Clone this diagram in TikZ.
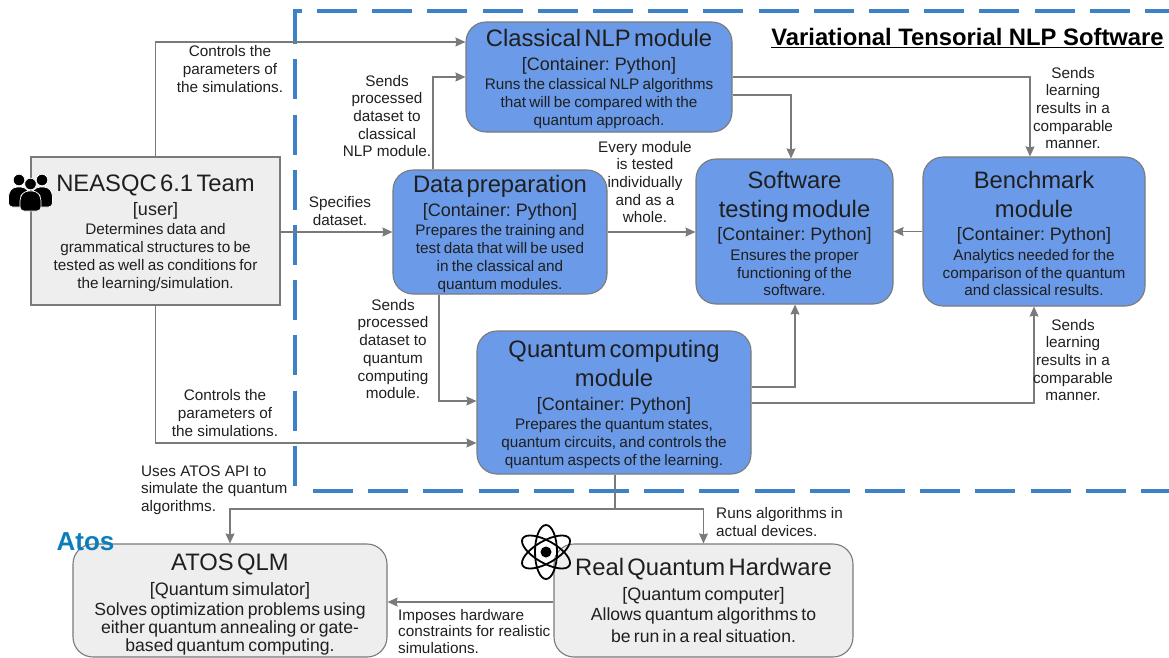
\documentclass[tikz,border=0pt]{standalone}
\usepackage{fontspec}
\setmainfont{Liberation Sans}
\usetikzlibrary{calc, positioning, arrows.meta}
\definecolor{modblue}{HTML}{6A9AE8}
\definecolor{dashblue}{HTML}{3D82C6}
\definecolor{boxgrey}{HTML}{EEEEEE}
\definecolor{edgegrey}{HTML}{7A7A7A}
\definecolor{atosblue}{HTML}{0A7DBB}
% Font sizes inside the boxes
\newcommand{\ttl}{\fontsize{23.8}{29}\selectfont}
\newcommand{\sbt}{\fontsize{18}{23.5}\selectfont}
\newcommand{\sbtb}{\fontsize{18}{24.5}\selectfont}
\newcommand{\bdy}{\fontsize{15.3}{17.7}\selectfont}
\newcommand{\bdyb}{\fontsize{17.6}{18}\selectfont}
% Title, kind and description of a box
\newcommand{\boxtxt}[3]{{\ttl\rule{0pt}{21pt}#1\par}{\sbt #2\par}\vspace{2pt}{\bdy #3\par}}
\newcommand{\boxtxtb}[4][0pt]{{\ttl\rule{0pt}{#1}#2\par}{\sbtb #3\par}\vspace{2.5pt}{\bdyb #4\par}}
\tikzset{
  % Set arrowhead
  >={Stealth[length=10pt, width=9pt, inset=1pt]},
  % General box
  box/.style={draw=edgegrey, line width=1.1pt, align=center, inner sep=0pt,
    text=black!88},
  % Blue module
  module/.style={box, fill=modblue, rounded corners=20pt},
  % Grey system
  extsys/.style={box, fill=boxgrey, rounded corners=20pt},
  % User box
  userbox/.style={box, fill=boxgrey},
  % Connectors
  link/.style={->, draw=edgegrey, line width=1.1pt},
  % Connector labels
  lbl/.style={align=center, inner sep=0pt, text=black!88,
    font=\fontsize{15.3}{17.7}\selectfont},
  lbll/.style={lbl, align=left},
  % System boundary
  bound/.style={draw=dashblue, line width=4.4pt,
    dash pattern=on 40pt off 15.2pt},
  iconpart/.style={fill=black, draw=white, line width=0.7pt},
}
\begin{document}
\begin{tikzpicture}[x=1pt, y=-1pt]
  \useasboundingbox (0,0) rectangle (1169,657);
  \clip (0,0) rectangle (1169,657);

  % System boundary
  \draw[bound] (1185,11) -- (295,11) -- (295,491);
  \draw[bound] (313,491) -- (1185,491);
  \node[font=\fontsize{23.8}{26}\selectfont\bfseries, inner sep=0pt, anchor=center] (title) at (967.5,38)
    {\underline{Variational Tensorial NLP Software}};

  % Boxes
  \node[userbox, minimum width=249pt, minimum height=148pt, text width=247pt] (team) at (155.5,231)
    {\boxtxt{NEASQC 6.1 Team}{[user]}{Determines data and\\
     grammatical structures to be\\ tested as well as conditions for\\ the learning/simulation.}};
  \node[module, minimum width=266pt, minimum height=110pt, text width=260pt] (classical) at (599,77)
    {\boxtxt{Classical NLP module}{[Container: Python]}{Runs the classical NLP algorithms\\
     that will be compared with the\\ quantum approach.}};
  \node[module, minimum width=214pt, minimum height=124pt, text width=208pt] (prep) at (500,232)
    {\boxtxt{Data preparation}{[Container: Python]}{Prepares the training and\\
     test data that will be used\\ in the classical and\\ quantum modules.}};
  \node[module, minimum width=197pt, minimum height=145pt, text width=191pt] (testing) at (794.5,231.5)
    {\boxtxt{Software\\ testing module}{[Container: Python]}{Ensures the proper\\
     functioning of the\\ software.}};
  \node[module, minimum width=222pt, minimum height=149pt, text width=216pt] (bench) at (1034,231.5)
    {\boxtxt{Benchmark\\ module}{[Container: Python]}{Analytics needed for the\\
     comparison of the quantum\\ and classical results.}};
  \node[module, minimum width=274pt, minimum height=143pt, text width=268pt] (quantum) at (614,402.5)
    {\boxtxt{Quantum computing\\ module}{[Container: Python]}{Prepares the quantum states,\\
     quantum circuits, and controls the\\ quantum aspects of the learning.}};
  \node[extsys, minimum width=314pt, minimum height=113pt, text width=308pt] (atos) at (230,600.5)
    {\boxtxtb[25pt]{ATOS QLM}{[Quantum simulator]}{Solves optimization problems using\\
     either quantum annealing or gate-\\ based quantum computing.}};
  \node[extsys, minimum width=299pt, minimum height=113pt, text width=293pt] (real) at (703.5,600.5)
    {\boxtxtb{Real Quantum Hardware}{[Quantum computer]}{Allows quantum algorithms to\\[4pt]
     be run in a real situation.}};

  % Connectors
  \draw[link] (team.north) |- ([yshift=35pt]classical.west);
  \draw[link] ([xshift=-67pt]prep.north) |- (classical.west);
  \draw[link] (team.east |- prep.west) -- (prep.west);
  \draw[link] (prep.east) -- (testing.west |- prep.east);
  \draw[link] ([xshift=-61pt]prep.south) |- ([yshift=1.5pt]quantum.west);
  \draw[link] (team.south) |- ([yshift=-40.5pt]quantum.west);
  \draw[link] (classical.east) -| ([xshift=-4pt]bench.north);
  \draw[link] ([yshift=-18pt]classical.east) -| ([xshift=-3.5pt]testing.north);
  \draw[link] (bench.west) -- (testing.east);
  \draw[link] ([yshift=15.5pt]quantum.east) -| ([xshift=.5pt]testing.south);
  \draw[link] ([yshift=-.5pt]quantum.east) -| (bench.south);
  \coordinate (fork) at (615,509);
  \draw[edgegrey, line width=1.1pt] (quantum.south -| fork) -- (fork);
  \draw[link] (fork) -| (atos.north);
  \draw[link] (fork) -| (real.north);
  \draw[link] ([yshift=-1.5pt]real.west) -- ([yshift=-1.5pt]atos.east);

  % Connector labels
  \node[lbl] (l1) at (230,69) {Controls the\\parameters of\\the simulations.};
  \node[lbl] (l2) at (387,116) {Sends\\processed\\dataset to\\classical\\NLP module.};
  \node[lbl] (l3) at (340,211) {Specifies\\dataset.};
  \node[lbl] (l4) at (393,349) {Sends\\processed\\dataset to\\quantum\\computing\\module.};
  \node[lbl] (l5) at (225,413) {Controls the\\parameters of\\the simulations.};
  \node[lbl] (l6) at (645,182) {Every module\\is tested\\individually\\and as a\\whole.};
  \node[lbl] (l7) at (1073,108) {Sends\\learning\\results in a\\comparable\\manner.};
  \node[lbl] (l8) at (1073,360) {Sends\\learning\\results in a\\comparable\\manner.};
  \node[lbll, anchor=west] (l9) at (141,490) {Uses ATOS API to\\simulate the quantum\\algorithms.};
  \node[lbll, anchor=west] (l10) at (716,522) {Runs algorithms in\\actual devices.};
  \node[lbll, anchor=west, font=\fontsize{15.3}{16.8}\selectfont] (l11) at (398,631.5) {Imposes hardware\\constraints for realistic\\simulations.};

  % People icon
  \foreach \cx/\cy in {19/180, 42/180, 30.5/184}{
    \fill[iconpart] (\cx,\cy) circle (5.8pt);
    \filldraw[iconpart, rounded corners=4pt] (\cx-10.5,\cy+27) -- (\cx-10.5,\cy+13) -- (\cx-6,\cy+7)
      -- (\cx+6,\cy+7) -- (\cx+10.5,\cy+13) -- (\cx+10.5,\cy+27) -- cycle;
  }

  % Atom icon
  \foreach \ang in {90, 30, -30}{
    \draw[black, line width=1.8pt] (546,552) ellipse [x radius=27pt, y radius=11pt, rotate=\ang];
  }
  \fill (546,552) circle (5.5pt);

  % Atos logo
  \node[font=\fontsize{26}{26}\selectfont\bfseries, text=atosblue, inner sep=0pt] (logo) at (85.5,541.5) {Atos};
\end{tikzpicture}
\end{document}
